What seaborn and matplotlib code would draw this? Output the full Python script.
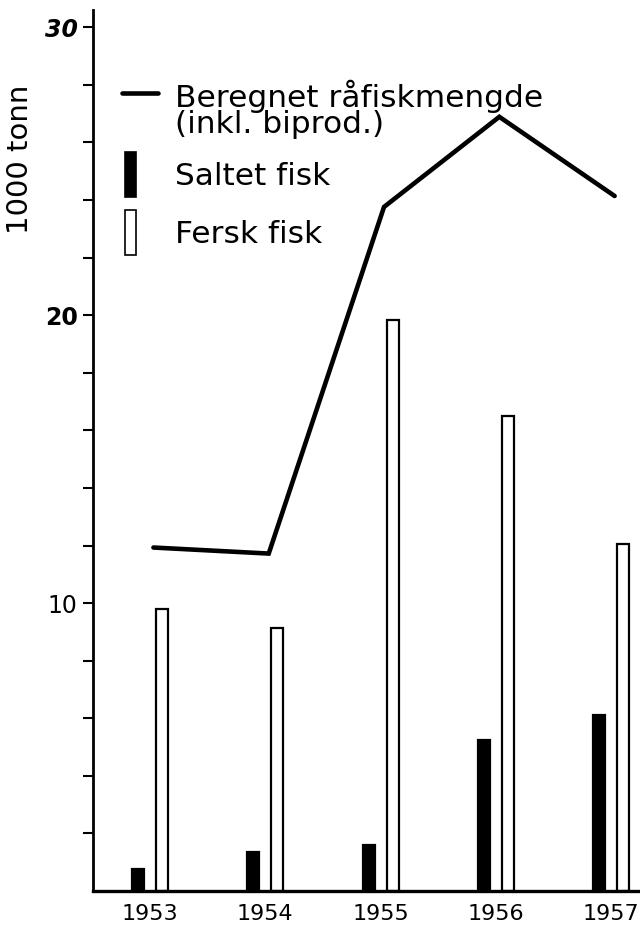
import matplotlib
matplotlib.use('Agg')
import matplotlib.pyplot as plt
import matplotlib.patches as mpatches
from matplotlib.lines import Line2D
from matplotlib.legend_handler import HandlerPatch, HandlerLine2D
import numpy as np
import pandas as pd
import seaborn as sns


# values (1000 tonn)
years = ['1953', '1954', '1955', '1956', '1957']
saltet = [0.75, 1.35, 1.6, 5.25, 6.1]
fersk = [9.8, 9.15, 19.85, 16.5, 12.05]
raafisk = [11.93, 11.72, 23.76, 26.89, 24.14]

y_ticks = list(range(2, 31, 2))
y_labels = {10: '10', 20: '20', 30: '30'}


def narrow_bar(legend, orig_handle, xdescent, ydescent, width, height, fontsize):
    # thin upright rectangle like the hand drawn legend keys
    return mpatches.Rectangle((-xdescent + 0.08 * width, -ydescent), 0.3 * width, height)


class TopLine(HandlerLine2D):
    """Line key lifted up to the first row of a two-line label."""

    def create_artists(self, legend, orig_handle, xdescent, ydescent, width, height, fontsize, trans):
        arts = super().create_artists(legend, orig_handle, xdescent, ydescent,
                                      width, height, fontsize, trans)
        for a in arts:
            a.set_ydata(np.asarray(a.get_ydata()) + 0.36 * fontsize)
        return arts


def main():
    sns.set_theme(style='white')
    plt.rcParams['font.family'] = ['DejaVu Sans']
    plt.rcParams['text.color'] = 'black'

    bars = pd.DataFrame({
        'year': years * 2,
        'value': saltet + fersk,
        'type': ['Saltet fisk'] * len(years) + ['Fersk fisk'] * len(years),
    })

    fig = plt.figure(figsize=(6.4, 9.3), dpi=100)
    ax = fig.add_axes([93 / 640, 39 / 930, 547 / 640, 881 / 930])

    sns.barplot(data=bars, x='year', y='value', hue='type',
                hue_order=['Saltet fisk', 'Fersk fisk'],
                palette={'Saltet fisk': 'black', 'Fersk fisk': 'white'},
                edgecolor='black', linewidth=1.6, width=0.416, gap=0.5,
                legend=False, ax=ax)
    sns.lineplot(x=np.arange(len(years)) + 0.03, y=raafisk, color='black',
                 linewidth=3.3, ax=ax)
    for ln in ax.lines:
        ln.set_solid_joinstyle('miter')

    ax.set_xlim(-0.494, 4.25)
    ax.set_ylim(0, 30.6)
    ax.set_yticks(y_ticks)
    ax.set_yticklabels([y_labels.get(t, '') for t in y_ticks])
    for lab in ax.get_yticklabels():
        if lab.get_text() == '30':
            lab.set_fontweight('bold')
            lab.set_fontstyle('italic')
        elif lab.get_text() == '20':
            lab.set_fontweight('bold')
    ax.tick_params(axis='y', which='major', direction='out', length=7, width=1.5,
                   left=True, pad=4, labelsize=17, colors='black')
    ax.tick_params(axis='x', length=0, pad=9, labelsize=16, colors='black')
    ax.set_xlabel('')
    ax.set_ylabel('1000 tonn', fontsize=21, color='black')
    ax.yaxis.set_label_coords(-0.108, 0.83)

    sns.despine(ax=ax)
    ax.spines['left'].set_linewidth(2)
    ax.spines['bottom'].set_linewidth(2.4)
    ax.spines['left'].set_color('black')
    ax.spines['bottom'].set_color('black')

    handles = [
        Line2D([], [], color='black', linewidth=3.3),
        mpatches.Patch(facecolor='black', edgecolor='black', linewidth=1.2),
        mpatches.Patch(facecolor='white', edgecolor='black', linewidth=1.2),
    ]
    labels = ['Beregnet råfiskmengde\n(inkl. biprod.)', 'Saltet fisk', 'Fersk fisk']
    leg = ax.legend(handles, labels, loc='upper left',
                    bbox_to_anchor=(29 / 547, (891 - 80) / 881),
                    frameon=False, fontsize=22.5, labelcolor='black',
                    borderpad=0, borderaxespad=0,
                    handlelength=1.15, handleheight=1.84, handletextpad=0.55,
                    labelspacing=0.42,
                    handler_map={mpatches.Patch: HandlerPatch(patch_func=narrow_bar),
                                 Line2D: TopLine()})
    for t in leg.get_texts():
        t.set_linespacing(0.85)

    fig.savefig('out.png', dpi=100)


if __name__ == '__main__':
    main()
